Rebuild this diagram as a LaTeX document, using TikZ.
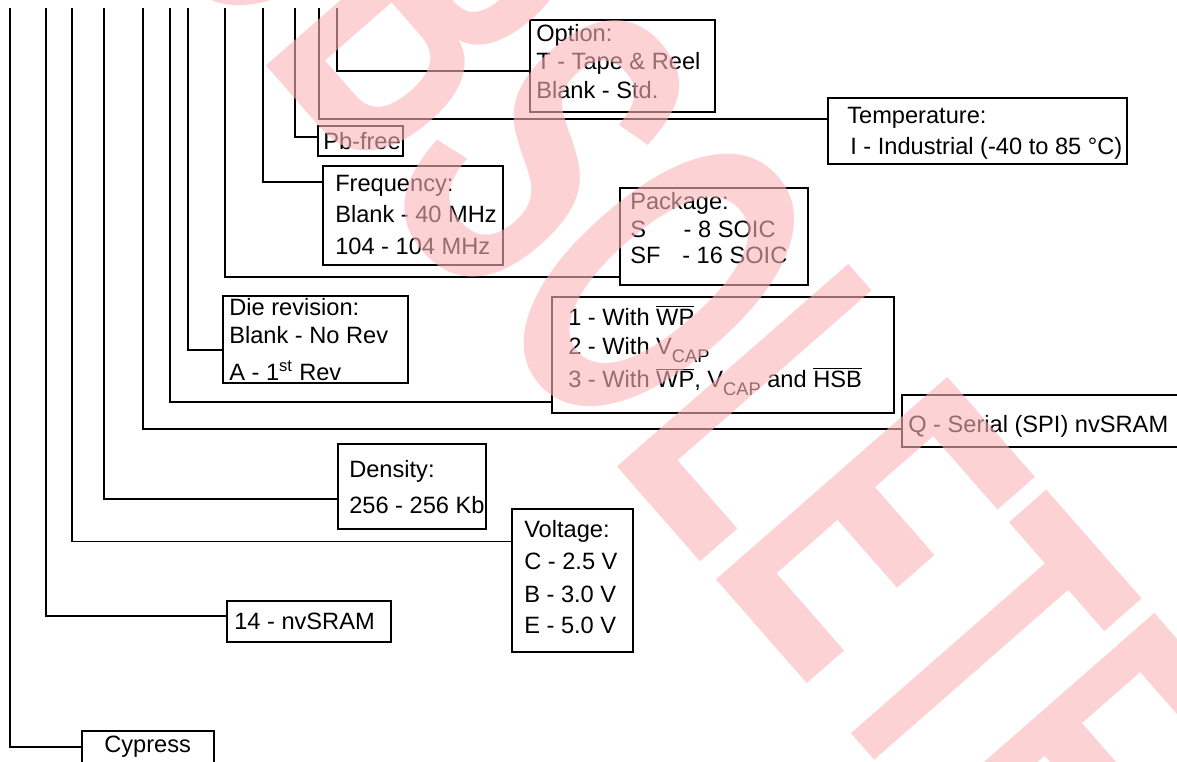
\documentclass[tikz,border=0pt]{standalone}
\usepackage{fontspec}
\setmainfont{Liberation Sans}
\usetikzlibrary{calc, fit}
\definecolor{stampred}{RGB}{250,180,185}
\newcommand{\capsub}{\raisebox{-6pt}{\fontsize{13}{14}\selectfont CAP}}

\begin{document}
\begin{tikzpicture}[
  x=0.025cm, y=-0.025cm,
  box/.style={draw, line width=1.35pt, inner sep=0pt},
  lead/.style={draw, line width=1.35pt},
  lbl/.style={anchor=base west, inner sep=0pt,
    font=\fontsize{16.8}{20}\selectfont},
  stamp/.style={inner sep=0pt, text=stampred, text opacity=0.6,
    font=\fontsize{318}{320}\selectfont\bfseries,
    rotate=-48.8, xscale=0.55}
]
  \useasboundingbox (0,0) rectangle (1177,762);

  % Tops of the field lines.
  \coordinate (tCyp) at (10,8);
  \coordinate (tFam) at (46,8);
  \coordinate (tVolt) at (72,8);
  \coordinate (tDens) at (104,8);
  \coordinate (tSer) at (143,8);
  \coordinate (tPin) at (170,8);
  \coordinate (tDie) at (188,8);
  \coordinate (tPkg) at (225,8);
  \coordinate (tFreq) at (263,8);
  \coordinate (tPb) at (295,8);
  \coordinate (tTemp) at (319,8);
  \coordinate (tOpt) at (337,8);

  % Field boxes.
  \node[box, fit={(530,20) (715,112)}] (opt) {};
  \node[box, fit={(828,98) (1127,164)}] (temp) {};
  \node[box, fit={(318,126) (403,156)}] (pb) {};
  \node[box, fit={(323,166) (503,265)}] (freq) {};
  \node[box, fit={(620,188) (808,285)}] (pkg) {};
  \node[box, fit={(223,296) (408,383)}] (die) {};
  \node[box, fit={(552,297) (894,413)}] (pin) {};
  \node[box, fit={(902,395) (1200,447)}] (ser) {};
  \node[box, fit={(338,444) (486,529)}] (dens) {};
  \node[box, fit={(512,509) (633,652)}] (volt) {};
  \node[box, fit={(227,601) (391,642)}] (fam) {};
  \node[box, fit={(82,731) (214,780)}] (cyp) {};

  % Box texts.
  \node[lbl] (opt1) at (536,42) {Option:};
  \node[lbl] (opt2) at (536,70) {T - Tape \& Reel};
  \node[lbl] (opt3) at (536,99) {Blank - Std.};
  \node[lbl] (temp1) at (847,123) {Temperature:};
  \node[lbl] (temp2) at (850,154) {I - Industrial (-40 to 85 °C)};
  \node[lbl] (pb1) at (323,149) {Pb-free};
  \node[lbl] (freq1) at (335,191) {Frequency:};
  \node[lbl] (freq2) at (335,222) {Blank - 40 MHz};
  \node[lbl] (freq3) at (335,254) {104 - 104 MHz};
  \node[lbl] (pkg1) at (630,209) {Package:};
  \node[lbl] (pkg2) at (630,237) {\makebox[38pt][l]{S}- 8 SOIC};
  \node[lbl] (pkg3) at (630,263) {\makebox[37pt][l]{SF}- 16 SOIC};
  \node[lbl] (die1) at (229,315) {Die revision:};
  \node[lbl] (die2) at (229,343) {Blank - No Rev};
  \node[lbl] (die3) at (229,380) {A - 1\textsuperscript{st} Rev};
  \node[lbl] (pin1) at (568,325) {1 - With $\overline{\mbox{WP}}$};
  \node[lbl] (pin2) at (568,354) {2 - With V\capsub};
  \node[lbl] (pin3) at (568,387) {3 - With $\overline{\mbox{WP}}$,
    V\capsub{} and $\overline{\mbox{HSB}}$};
  \node[lbl] (ser1) at (908,432) {Q - Serial (SPI) nvSRAM};
  \node[lbl] (dens1) at (349,477) {Density:};
  \node[lbl] (dens2) at (349,513) {256 - 256 Kb};
  \node[lbl] (volt1) at (524,537) {Voltage:};
  \node[lbl] (volt2) at (524,569) {C - 2.5 V};
  \node[lbl] (volt3) at (524,602) {B - 3.0 V};
  \node[lbl] (volt4) at (524,633) {E - 5.0 V};
  \node[lbl] (fam1) at (234,629) {14 - nvSRAM};
  \node[lbl] (cyp1) at (104,752) {Cypress};

  % Field lines, down and then across into each box.
  \draw[lead] (tCyp) |- ($(cyp.north west)!.327!(cyp.south west)$);
  \draw[lead] (tFam) |- ($(fam.north west)!.366!(fam.south west)$);
  \draw[lead] (tVolt) |- ($(volt.north west)!.231!(volt.south west)$);
  \draw[lead] (tDens) |- ($(dens.north west)!.647!(dens.south west)$);
  \draw[lead] (tSer) |- ($(ser.north west)!.654!(ser.south west)$);
  \draw[lead] (tPin) |- ($(pin.north west)!.897!(pin.south west)$);
  \draw[lead] (tDie) |- ($(die.north west)!.621!(die.south west)$);
  \draw[lead] (tPkg) |- ($(pkg.north west)!.907!(pkg.south west)$);
  \draw[lead] (tFreq) |- ($(freq.north west)!.172!(freq.south west)$);
  \draw[lead] (tPb) |- ($(pb.north west)!.367!(pb.south west)$);
  \draw[lead] (tTemp) |- ($(temp.north west)!.318!(temp.south west)$);
  \draw[lead] (tOpt) |- ($(opt.north west)!.554!(opt.south west)$);

  % Watermark.
  \node[stamp] (obs) at (691,317) {OBSOLETE};
\end{tikzpicture}
\end{document}
